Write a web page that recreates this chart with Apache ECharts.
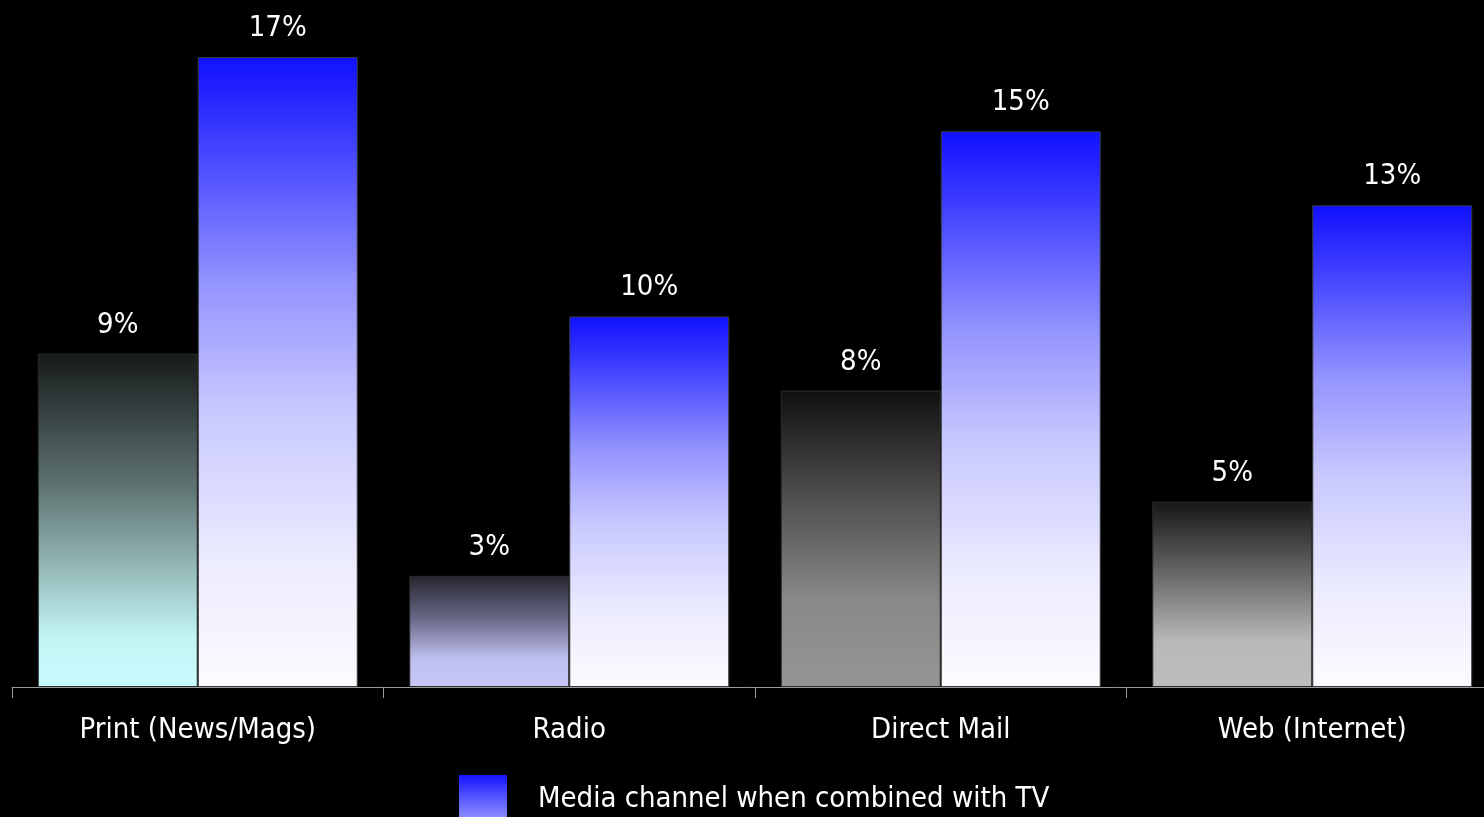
<!DOCTYPE html>
<html>
<head>
<meta charset="utf-8">
<script src="https://cdn.jsdelivr.net/npm/echarts@6/dist/echarts.min.js"></script>
<style>
  html, body { margin: 0; padding: 0; background: #000; }
  #chart { width: 1484px; height: 817px; }
</style>
</head>
<body>
<div id="chart"></div>
<script>
// Media channels on the category axis
const categories = ['Print (News/Mags)', 'Radio', 'Direct Mail', 'Web (Internet)'];
// Share (%) for each channel on its own
const standaloneValues = [9, 3, 8, 5];
// Share (%) for each channel when combined with TV
const withTvValues = [17, 10, 15, 13];
const withTvName = 'Media channel when combined with TV';

const FONT = '"DejaVu Sans Condensed", "Liberation Sans Narrow", "Roboto", sans-serif';
const FONT_SIZE = 29;

// each standalone bar fades from near-black at the top to its own tint
const standaloneTints = [
  [{ offset: 0, color: '#161a1a' }, { offset: 0.4, color: '#5f7472' }, { offset: 0.85, color: '#c2f4f4' }, { offset: 1, color: '#c8fcfc' }],
  [{ offset: 0, color: '#26262e' }, { offset: 0.4, color: '#6c6c8c' }, { offset: 0.75, color: '#c0c0f0' }, { offset: 1, color: '#c8c8f8' }],
  [{ offset: 0, color: '#101010' }, { offset: 0.4, color: '#555555' }, { offset: 0.7, color: '#888888' }, { offset: 1, color: '#959595' }],
  [{ offset: 0, color: '#161616' }, { offset: 0.4, color: '#6a6a6a' }, { offset: 0.75, color: '#b8b8b8' }, { offset: 1, color: '#bdbdbd' }]
];

const blueFade = new echarts.graphic.LinearGradient(0, 0, 0, 1, [
  { offset: 0, color: '#1010ff' },
  { offset: 0.12, color: '#3a3aff' },
  { offset: 0.36, color: '#9494ff' },
  { offset: 0.56, color: '#c8c8ff' },
  { offset: 0.8, color: '#ececff' },
  { offset: 1, color: '#fbfbff' }
]);

// the legend swatch only shows the upper, bluer part of the fade
const swatchFade = new echarts.graphic.LinearGradient(0, 0, 0, 1, [
  { offset: 0, color: '#1414ff' },
  { offset: 0.5, color: '#5a5aff' },
  { offset: 1, color: '#9a9aff' }
]);

const chart = echarts.init(document.getElementById('chart'));

chart.setOption({
  backgroundColor: '#000000',
  animation: false,
  grid: { left: 12, width: 1486, top: 20, bottom: 130, containLabel: false, outerBoundsMode: 'none' },
  legend: {
    data: [{ name: withTvName, itemStyle: { color: swatchFade, borderWidth: 0 } }],
    left: 454,
    top: 770,
    itemWidth: 48,
    itemHeight: 48,
    icon: 'rect',
    textStyle: { color: '#ffffff', fontSize: FONT_SIZE, fontFamily: FONT, padding: [0, 0, 0, 26] }
  },
  xAxis: {
    type: 'category',
    data: categories,
    axisLine: { lineStyle: { color: '#9a9a9a', width: 1 } },
    axisTick: { show: true, length: 11, lineStyle: { color: '#9a9a9a' } },
    axisLabel: { color: '#ffffff', fontSize: FONT_SIZE, fontFamily: FONT, margin: 29 }
  },
  yAxis: {
    type: 'value',
    min: 0,
    max: 18,
    show: false,
    splitLine: { show: false }
  },
  series: [
    {
      name: 'Media channel alone',
      type: 'bar',
      barWidth: 160,
      barGap: '0%',
      data: standaloneValues.map((v, i) => ({
        value: v,
        itemStyle: { color: new echarts.graphic.LinearGradient(0, 0, 0, 1, standaloneTints[i]) }
      })),
      itemStyle: { borderColor: '#2a2a2a', borderWidth: 1 },
      label: {
        show: true, position: 'top', distance: 14,
        formatter: '{c}%', color: '#ffffff', fontSize: FONT_SIZE, fontFamily: FONT
      }
    },
    {
      name: withTvName,
      type: 'bar',
      barWidth: 160,
      barGap: '0%',
      data: withTvValues,
      itemStyle: { color: blueFade, borderColor: '#3a3a3a', borderWidth: 1 },
      label: {
        show: true, position: 'top', distance: 14,
        formatter: '{c}%', color: '#ffffff', fontSize: FONT_SIZE, fontFamily: FONT
      }
    }
  ]
});
</script>
</body>
</html>
